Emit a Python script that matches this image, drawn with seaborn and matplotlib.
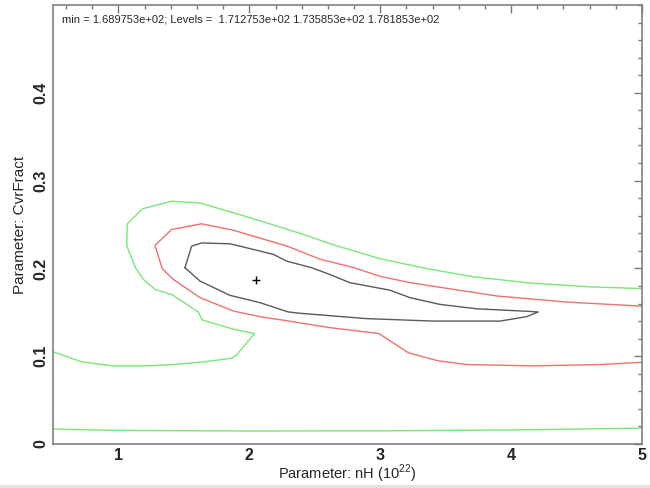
import matplotlib
matplotlib.use("Agg")
import matplotlib.pyplot as plt
from matplotlib.patches import Rectangle
from matplotlib.ticker import MultipleLocator
import numpy as np
import pandas as pd
import seaborn as sns

# Confidence contours (nH vs CvrFract), polylines per level
inner_x = [1.508, 1.559, 1.636, 1.852, 1.929, 2.183, 2.285, 2.476, 2.616, 2.769, 3.074, 3.227,
           3.456, 3.737, 4.169, 4.207, 4.118, 3.915, 3.405, 2.896, 2.387, 2.297, 2.081, 1.852,
           1.623, 1.508]
inner_y = [0.2008, 0.2253, 0.229, 0.228, 0.2253, 0.216, 0.2083, 0.2008, 0.193, 0.1837, 0.1752, 0.1667,
           0.159, 0.154, 0.1508, 0.1504, 0.145, 0.140, 0.140, 0.1428, 0.1489, 0.1504, 0.161, 0.1693,
           0.1856, 0.2008]

middle_x = [5.0, 4.42, 3.89, 3.61, 3.23, 3.0, 2.80, 2.54, 2.29, 1.877, 1.636, 1.406, 1.279, 1.335,
            1.419, 1.623, 1.877, 2.08, 2.26, 2.616, 2.99, 3.214, 3.443, 3.66, 4.17, 4.68, 5.0]
middle_y = [0.157, 0.1617, 0.1686, 0.175, 0.1837, 0.1909, 0.2008, 0.2105, 0.2253, 0.2435, 0.2508,
            0.2443, 0.2261, 0.1996, 0.1875, 0.1667, 0.1515, 0.145, 0.141, 0.1325, 0.1258, 0.104,
            0.0947, 0.0905, 0.089, 0.0905, 0.093]

outer_x = [0.50, 0.72, 0.96, 1.22, 1.42, 1.65, 1.865, 1.90, 2.04, 1.88, 1.64, 1.61, 1.41, 1.28,
           1.19, 1.13, 1.063, 1.068, 1.185, 1.406, 1.62, 1.88, 2.13, 2.39, 2.64, 3.0, 3.36, 3.71,
           4.17, 4.60, 5.0]
outer_y = [0.105, 0.0935, 0.089, 0.089, 0.0905, 0.0935, 0.0977, 0.101, 0.1258, 0.1307, 0.1413,
           0.1504, 0.170, 0.176, 0.1875, 0.2008, 0.226, 0.2508, 0.268, 0.2765, 0.2746, 0.2633,
           0.252, 0.2398, 0.227, 0.211, 0.1996, 0.1905, 0.183, 0.179, 0.177]

outer_low_x = [0.5, 1.0, 2.0, 3.0, 4.0, 5.0]
outer_low_y = [0.017, 0.0155, 0.0148, 0.015, 0.016, 0.018]

best_x = [2.05]
best_y = [0.187]

x_ticks = [1, 2, 3, 4, 5]
x_tick_labels = ["1", "2", "3", "4", "5"]
y_ticks = [0, 0.1, 0.2, 0.3, 0.4]
y_tick_labels = ["0", "0.1", "0.2", "0.3", "0.4"]

header = "min = 1.689753e+02; Levels =  1.712753e+02 1.735853e+02 1.781853e+02"

sns.set_theme(style="white")
plt.rcParams["font.family"] = ["Liberation Sans", "DejaVu Sans"]
plt.rcParams["mathtext.fontset"] = "custom"
plt.rcParams["mathtext.rm"] = "Liberation Sans"

fig = plt.figure(figsize=(6.5, 4.88), dpi=100)
ax = fig.add_axes([53 / 650, 44 / 488, 589 / 650, 439 / 488])

curves = [
    (inner_x, inner_y, "#5a5a5a"),
    (middle_x, middle_y, "#f07070"),
    (outer_x, outer_y, "#78e878"),
    (outer_low_x, outer_low_y, "#78e878"),
]
for xs, ys, col in curves:
    df = pd.DataFrame({"x": xs, "y": ys})
    sns.lineplot(data=df, x="x", y="y", sort=False, estimator=None, color=col,
                 linewidth=1.0, ax=ax)

sns.scatterplot(x=best_x, y=best_y, marker="+", s=40, color="black", linewidth=1.0, ax=ax)

ax.set_xlim(0.5, 5.0)
ax.set_ylim(0, 0.5)
ax.set_xticks(x_ticks)
ax.set_xticklabels(x_tick_labels, fontsize=11.5, fontweight="bold")
ax.set_yticks(y_ticks)
ax.set_yticklabels(y_tick_labels, fontsize=11.5, fontweight="bold", rotation=90, va="center")
ax.xaxis.set_minor_locator(MultipleLocator(0.2))
ax.yaxis.set_minor_locator(MultipleLocator(0.02))
ax.tick_params(which="both", direction="in", top=True, right=True, color="#777777",
               width=1.0)
ax.tick_params(which="major", length=6, pad=3)
ax.tick_params(which="minor", length=3)
for sp in ax.spines.values():
    sp.set_color("#808080")
    sp.set_linewidth(1.2)

ax.set_xlabel(r"Parameter: nH (10$^{\rm 22}$)", fontsize=10.5, labelpad=0)
ax.set_ylabel("Parameter: CvrFract", fontsize=11, labelpad=5)

ax.text(0.016, 0.968, header, transform=ax.transAxes, fontsize=8.0, va="center", ha="left")

# thin grey strip along the lower edge of the canvas
fig.patches.append(Rectangle((0, 0), 1, 3 / 488, transform=fig.transFigure,
                             facecolor="#e2e2e2", edgecolor="none"))

fig.savefig("out.png", dpi=100)
